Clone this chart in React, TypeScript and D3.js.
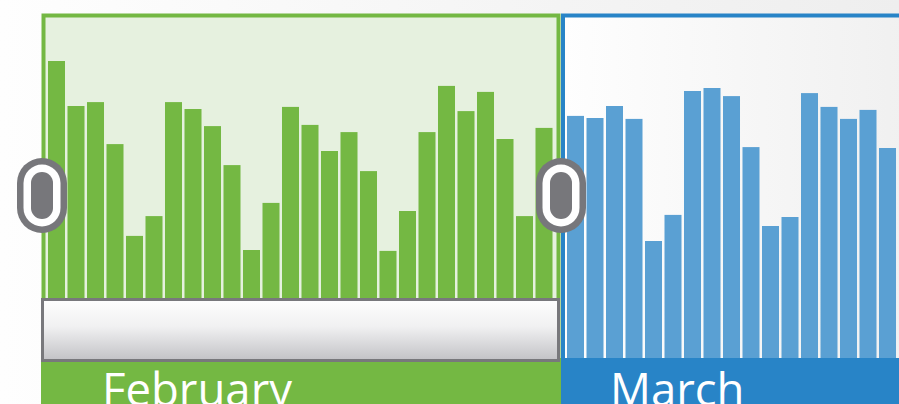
import React from "react";
import * as d3 from "d3";

const months = ["February", "March"];
const febValues = [99, 84, 85.3, 71.3, 40.7, 47.3, 85.3, 83, 77.3, 64.3, 36, 51.7, 83.7, 77.7, 69, 75.3, 62.3, 35.7, 49, 75.3, 90.7, 82.3, 88.7, 73, 47.3, 76.7];
const marValues = [80.7, 80, 84, 79.7, 39, 47.7, 89, 90, 87.3, 70.3, 44, 47, 88.3, 83.7, 79.7, 82.7, 70];

const W = 899;
const H = 404;
const BASE = 358;
const GREEN = "#74b843";
const GREEN_BG = "#e6f1df";
const BLUE_BAR = "#5aa0d3";
const BLUE = "#2884c7";
const STEP = 19.5;

function Handle({ cx, cy }: { cx: number; cy: number }) {
  return (
    <g>
      <rect x={cx - 25} y={cy - 37.5} width={50} height={75} rx={25} fill="#77777b" />
      <rect x={cx - 18.5} y={cy - 31} width={37} height={62} rx={18.5} fill="#ffffff" />
      <rect x={cx - 11} y={cy - 23.5} width={22} height={47} rx={11} fill="#77777b" />
    </g>
  );
}

export default function App() {
  const y = d3.scaleLinear().domain([0, 100]).range([BASE, BASE - 300]);
  const febStart = 46.75;
  const marStart = 565.75;
  const xFeb = d3
    .scaleBand<number>()
    .domain(febValues.map((_, i) => i))
    .range([febStart, febStart + febValues.length * STEP])
    .paddingInner(0.128)
    .paddingOuter(0.064);
  const xMar = d3
    .scaleBand<number>()
    .domain(marValues.map((_, i) => i))
    .range([marStart, marStart + marValues.length * STEP])
    .paddingInner(0.128)
    .paddingOuter(0.064);

  return (
    <svg
      width={W}
      height={H}
      style={{ position: "absolute", left: 0, top: 0, display: "block" }}
    >
      <defs>
        <linearGradient id="bg" x1="0" x2="1" y1="0" y2="0">
          <stop offset="0" stopColor="#fefefe" />
          <stop offset="1" stopColor="#eeeeee" />
        </linearGradient>
        <linearGradient id="scroll" x1="0" x2="0" y1="0" y2="1">
          <stop offset="0" stopColor="#fefefe" />
          <stop offset="0.45" stopColor="#f0f0f1" />
          <stop offset="1" stopColor="#c2c2c6" />
        </linearGradient>
      </defs>
      <rect x={0} y={0} width={W} height={H} fill="url(#bg)" />
      {/* February frame */}
      <rect x={43.5} y={15.5} width={515} height={360} fill={GREEN_BG} stroke={GREEN} strokeWidth={4} />
      {/* March frame */}
      <rect x={563} y={15.5} width={400} height={360} fill="url(#bg)" stroke={BLUE} strokeWidth={4} />

      {febValues.map((v, i) => (
        <rect key={"f" + i} x={xFeb(i)} y={y(v)} width={xFeb.bandwidth()} height={BASE - y(v)} fill={GREEN} />
      ))}
      {marValues.map((v, i) => (
        <rect key={"m" + i} x={xMar(i)} y={y(v)} width={xMar.bandwidth()} height={BASE - y(v)} fill={BLUE_BAR} />
      ))}

      {/* month bands */}
      <rect x={41} y={BASE} width={520} height={H - BASE} fill={GREEN} />
      <rect x={561} y={BASE} width={W - 561} height={H - BASE} fill={BLUE} />
      <text x={102} y={405.5} fill="#ffffff" fontFamily="'Open Sans', sans-serif" fontSize={45.5}>
        {months[0]}
      </text>
      <text x={610} y={405.5} fill="#ffffff" fontFamily="'Open Sans', sans-serif" fontSize={45.5}>
        {months[1]}
      </text>

      {/* scroll box */}
      <rect x={42.5} y={299.5} width={516} height={61} fill="url(#scroll)" stroke="#78787c" strokeWidth={3} />

      <Handle cx={42} cy={195.5} />
      <Handle cx={561} cy={195.5} />
    </svg>
  );
}
